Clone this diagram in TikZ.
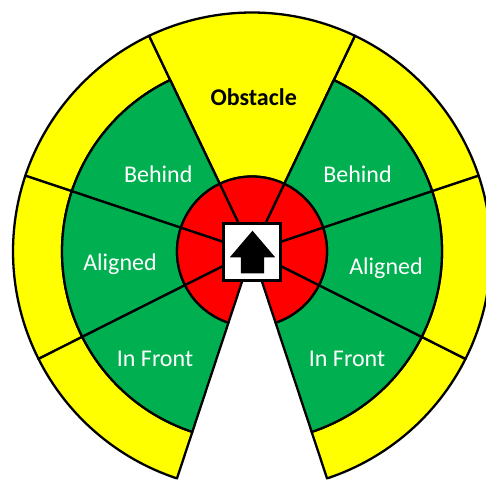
\documentclass[tikz,border=0pt]{standalone}
\usepackage{fontspec}
\setmainfont{Carlito}
\definecolor{ylw}{HTML}{FFFF00}
\definecolor{grn}{HTML}{00B050}
\definecolor{rd}{HTML}{FF0000}
\newcommand\ringsector[5]{%
  \filldraw[sector, fill=#1] ([shift={(#2:#4)}]C) arc[start angle=#2, end angle=#3, radius=#4]
    -- ([shift={(#3:#5)}]C) arc[start angle=#3, end angle=#2, radius=#5] -- cycle;}
\begin{document}
\begin{tikzpicture}[x=1pt,y=1pt,
  sector/.style={draw=black, line width=2.3pt, line join=round},
  lbl/.style={text=white, font=\fontsize{24}{28}\selectfont, anchor=base, inner sep=0pt}]
\useasboundingbox (0,0) rectangle (486,480);
\clip (0,0) rectangle (486,480);
\coordinate (C) at (252,228.5);
% yellow outer ring
\ringsector{ylw}{18.5}{64.5}{190}{239}
\ringsector{ylw}{115.5}{161.5}{190}{239}
\ringsector{ylw}{161.5}{206.7}{190}{239}
\ringsector{ylw}{206.7}{251.7}{190}{239}
\ringsector{ylw}{-71.7}{-26.7}{190}{239}
\ringsector{ylw}{-26.7}{18.5}{190}{239}
\ringsector{ylw}{64.5}{115.5}{75}{239}
% green ring
\ringsector{grn}{18.5}{64.5}{75}{190}
\ringsector{grn}{115.5}{161.5}{75}{190}
\ringsector{grn}{161.5}{206.7}{75}{190}
\ringsector{grn}{206.7}{251.7}{75}{190}
\ringsector{grn}{-71.7}{-26.7}{75}{190}
\ringsector{grn}{-26.7}{18.5}{75}{190}
% red ring
\ringsector{rd}{18.5}{64.5}{1}{75}
\ringsector{rd}{64.5}{115.5}{1}{75}
\ringsector{rd}{115.5}{161.5}{1}{75}
\ringsector{rd}{161.5}{206.7}{1}{75}
\ringsector{rd}{206.7}{251.7}{1}{75}
\ringsector{rd}{-71.7}{-26.7}{1}{75}
\ringsector{rd}{-26.7}{18.5}{1}{75}
% vehicle box
\node[draw=black, line width=2.4pt, fill=white, minimum size=57pt, inner sep=0pt] (car) at ([yshift=-0.5pt]C) {};
\fill[black] ([shift={(0.5,20.8)}]C) -- ([shift={(23.2,-5.8)}]C) -- ([shift={(12.1,-5.8)}]C)
  -- ([shift={(12.1,-21.8)}]C) -- ([shift={(-11.1,-21.8)}]C) -- ([shift={(-11.1,-5.8)}]C)
  -- ([shift={(-22.2,-5.8)}]C) -- cycle;
% labels
\node[lbl, text=black, font=\bfseries\fontsize{24}{28}\selectfont] (obs) at (253.7,374) {Obstacle};
\node[lbl] (bl) at (158.3,297.7) {Behind};
\node[lbl] (br) at (357.5,297.7) {Behind};
\node[lbl] (al) at (120,210) {Aligned};
\node[lbl] (ar) at (386,206) {Aligned};
\node[lbl] (fl) at (155,113.3) {In Front};
\node[lbl] (fr) at (347,113.3) {In Front};
\end{tikzpicture}
\end{document}
